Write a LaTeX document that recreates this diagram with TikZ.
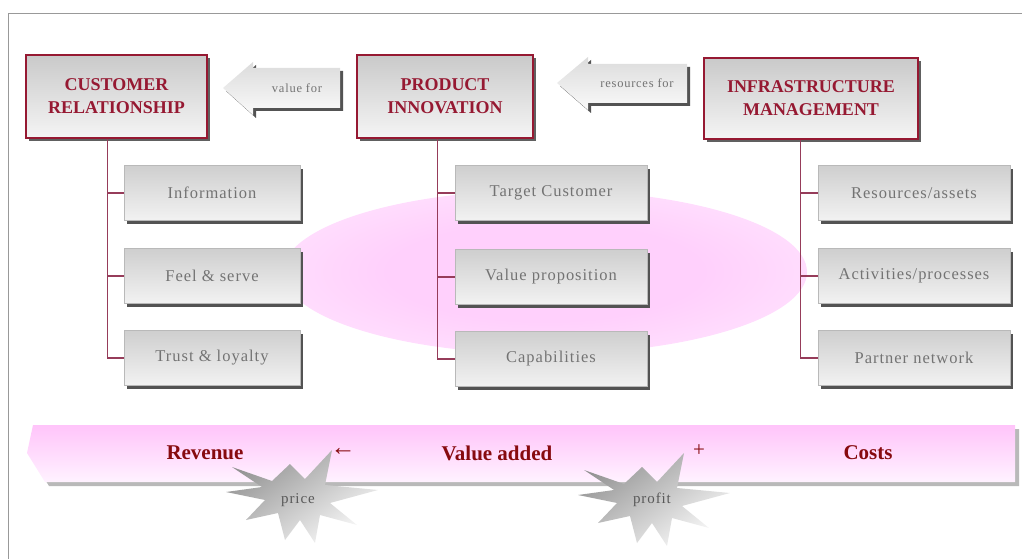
\documentclass[tikz,border=0pt]{standalone}
\usepackage{fontspec}
\setmainfont{Liberation Serif}
\newfontfamily\spacedfont[LetterSpace=6]{Liberation Serif}
\usetikzlibrary{shadows}
\definecolor{maroon}{RGB}{150,25,50}
\definecolor{linec}{RGB}{150,60,90}
\definecolor{darkred}{RGB}{135,10,15}
\definecolor{subtext}{RGB}{115,115,115}
\definecolor{bandtop}{RGB}{255,196,250}
\definecolor{bandbot}{RGB}{255,242,255}
\definecolor{glow}{RGB}{255,208,252}
\pgfdeclareradialshading{pinkglow}{\pgfpoint{0bp}{0bp}}{color(0bp)=(glow); color(15bp)=(glow); color(50bp)=(glow!10!white)}
\tikzset{
  mainbox/.style={draw=maroon, line width=1.2pt, top color=gray!42, bottom color=gray!8,
    align=center, text=maroon, font=\fontsize{18}{23}\selectfont\bfseries,
    drop shadow={shadow xshift=3pt, shadow yshift=-3pt, fill=gray!75!black, opacity=1}},
  subbox/.style={draw=gray!55, line width=0.6pt, top color=gray!38, bottom color=gray!10,
    minimum height=55pt, text=subtext, font=\spacedfont\fontsize{16.5}{20}\selectfont,
    drop shadow={shadow xshift=3pt, shadow yshift=-3pt, fill=gray!65!black, opacity=1}},
  conn/.style={draw=linec, line width=1.1pt},
  arrowtxt/.style={text=subtext, font=\spacedfont\fontsize{12.5}{15}\selectfont},
  bandtxt/.style={text=darkred, font=\fontsize{21}{25}\selectfont\bfseries},
  bursttxt/.style={text=gray!70!black, font=\spacedfont\fontsize{15}{18}\selectfont},
  burst/.pic={
    \shade[shading=axis, top color=gray!85, bottom color=gray!5, shading angle=35]
      (-68,-28) -- (-28,-14) -- (-10,-31) -- (5,-16) -- (32,-45) -- (25,-10) -- (78,-5)
      -- (30,8) -- (57,30) -- (20,20) -- (15,48) -- (0,25) -- (-15,45) -- (-22,18)
      -- (-54,25) -- (-35,5) -- (-74,-3) -- (-38,-8) -- cycle;
  }
}
\begin{document}
\begin{tikzpicture}[x=1pt, y=-1pt]
\useasboundingbox (0,0) rectangle (1022,559);
% frame
\draw[gray!80, line width=1pt] (8,559) -- (8,14) -- (1022,14);
% pink glow
\shade[shading=pinkglow] (545,272) ellipse [x radius=262, y radius=82];

% main boxes
\node[mainbox, minimum width=181pt, minimum height=83pt] (cr) at (116.5,96.5) {CUSTOMER\\RELATIONSHIP};
\node[mainbox, minimum width=176pt, minimum height=83pt] (pi) at (445,96.5) {PRODUCT\\INNOVATION};
\node[mainbox, minimum width=214pt, minimum height=81pt] (im) at (811,98.5) {INFRASTRUCTURE\\MANAGEMENT};

% sub boxes
\node[subbox, minimum width=176pt] (cr1) at (212,193) {Information};
\node[subbox, minimum width=176pt] (cr2) at (212,276) {Feel \&\ serve};
\node[subbox, minimum width=176pt] (cr3) at (212,358) {Trust \& loyalty};
\node[subbox, minimum width=192pt] (pi1) at (551,193) {Target Customer};
\node[subbox, minimum width=192pt] (pi2) at (551,277) {Value proposition};
\node[subbox, minimum width=192pt] (pi3) at (551,359) {Capabilities};
\node[subbox, minimum width=192pt] (im1) at (914,193) {Resources/assets};
\node[subbox, minimum width=192pt] (im2) at (914,276) {Activities/processes};
\node[subbox, minimum width=192pt] (im3) at (914,358) {Partner network};

% connectors
\draw[conn] ([xshift=82pt]cr.south west) |- (cr3.west);
\draw[conn] ([xshift=82pt]cr.south west |- cr1.west) -- (cr1.west);
\draw[conn] ([xshift=82pt]cr.south west |- cr2.west) -- (cr2.west);
\draw[conn] ([xshift=81pt]pi.south west) |- (pi3.west);
\draw[conn] ([xshift=81pt]pi.south west |- pi1.west) -- (pi1.west);
\draw[conn] ([xshift=81pt]pi.south west |- pi2.west) -- (pi2.west);
\draw[conn] ([xshift=97pt]im.south west) |- (im3.west);
\draw[conn] ([xshift=97pt]im.south west |- im1.west) -- (im1.west);
\draw[conn] ([xshift=97pt]im.south west |- im2.west) -- (im2.west);

% block arrows
\fill[gray!65!black] (226,91) -- (256,65) -- (256,71) -- (343,71) -- (343,111) -- (256,111) -- (256,118) -- cycle;
\shade[top color=gray!28, bottom color=gray!4] (223,88) -- (253,62) -- (253,68) -- (340,68) -- (340,108) -- (253,108) -- (253,115) -- cycle;
\node[arrowtxt] (vf) at (297,88) {value for};
\fill[gray!65!black] (560,86) -- (591,60) -- (591,67) -- (690,67) -- (690,106) -- (591,106) -- (591,113) -- cycle;
\shade[top color=gray!28, bottom color=gray!4] (557,83) -- (588,57) -- (588,64) -- (687,64) -- (687,103) -- (588,103) -- (588,110) -- cycle;
\node[arrowtxt] (rf) at (637,83) {resources for};

% bottom band
\fill[gray!55] (37,429) -- (1019,429) -- (1019,486) -- (49,486) -- (31,457) -- cycle;
\shade[top color=bandtop, bottom color=bandbot] (33,425) -- (1015,425) -- (1015,482) -- (45,482) -- (27,453) -- cycle;
\node[bandtxt] (rev) at (205,453) {Revenue};
\node[text=darkred, font=\fontsize{25}{28}\selectfont] (larr) at (343,452) {←};
\node[text=darkred, font=\fontsize{21}{25}\selectfont] (plus) at (699,451) {+};
\node[bandtxt] (va) at (497,453) {Value added};
\node[bandtxt] (costs) at (868,453) {Costs};

% starbursts
\pic at (300,495) {burst};
\node[bursttxt] (price) at (298,500) {price};
\pic at (652,498) {burst};
\node[bursttxt] (profit) at (652,500) {profit};
\end{tikzpicture}
\end{document}
